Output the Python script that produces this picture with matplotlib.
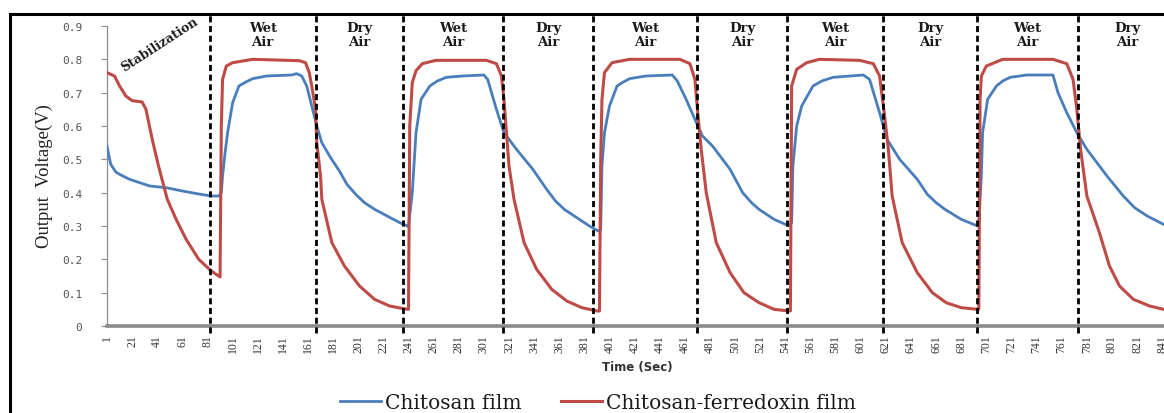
import matplotlib
matplotlib.use("Agg")
import matplotlib.pyplot as plt
from matplotlib.patches import Rectangle

# ---------------- data ----------------
chitosan_t = [1, 2, 4, 8, 11, 19, 27, 35, 48, 61, 74, 84, 90, 92, 93, 95, 97, 101, 106, 112, 117, 128, 148, 152, 156,
              160, 164, 168, 172, 179, 186, 192, 199, 206, 214, 224, 234, 240,
              241, 244, 247, 251, 258, 264, 271, 284, 301, 304, 311, 317, 327, 340, 351, 358, 365, 377, 385, 392,
              394, 395, 397, 401, 407, 412, 417, 430, 451, 455, 462, 469, 475, 483, 497, 507, 514, 520, 532, 544,
              546, 547, 550, 554, 563, 570, 579, 603, 608, 616, 622, 632, 646, 654, 661, 668, 681, 694,
              695, 696, 697, 698, 702, 709, 714, 720, 733, 754, 758, 765, 773, 781, 797, 810, 819, 829, 842]
chitosan_v = [0.54, 0.52, 0.485, 0.462, 0.455, 0.44, 0.43, 0.42, 0.415, 0.405, 0.396, 0.39, 0.39, 0.40, 0.45,
              0.52, 0.58, 0.67, 0.72, 0.733, 0.742, 0.75, 0.753, 0.757, 0.75,
              0.72, 0.66, 0.60, 0.55, 0.505, 0.465, 0.425, 0.395, 0.37, 0.35, 0.33, 0.31, 0.30,
              0.30, 0.40, 0.58, 0.68, 0.72, 0.735, 0.746, 0.75, 0.753, 0.74, 0.65, 0.58, 0.53, 0.47, 0.41, 0.375,
              0.35, 0.32, 0.30, 0.285,
              0.29, 0.48, 0.58, 0.66, 0.72, 0.732, 0.742, 0.75, 0.753, 0.735, 0.68, 0.62, 0.57, 0.54, 0.47, 0.40,
              0.37, 0.35, 0.32, 0.30,
              0.31, 0.48, 0.60, 0.66, 0.72, 0.735, 0.746, 0.753, 0.74, 0.64, 0.56, 0.50, 0.44, 0.395, 0.37, 0.35,
              0.32, 0.30,
              0.30, 0.38, 0.45, 0.58, 0.68, 0.72, 0.735, 0.746, 0.753, 0.753, 0.70, 0.64, 0.58, 0.53, 0.45, 0.39,
              0.355, 0.33, 0.305]

ferredoxin_t = [1, 7, 11, 16, 21, 29, 32, 37, 42, 49, 56, 64, 74, 84, 91, 92, 93, 96, 101, 117, 154, 159, 162,
                164, 167, 168, 171, 172, 180, 190, 202, 214, 226, 237, 241,
                242, 244, 247, 252, 263, 303, 311, 315, 317, 319, 321, 325, 333, 343, 355, 367, 379, 391, 393,
                394, 395, 397, 403, 417, 457, 465, 469, 471, 474, 478, 486, 497, 508, 520, 532, 544,
                545, 546, 550, 558, 568, 600, 611, 616, 620, 623, 626, 634, 646, 658, 669, 681, 694,
                695, 696, 697, 701, 714, 754, 765, 770, 773, 776, 781, 791, 799, 807, 818, 831, 842]
ferredoxin_v = [0.76, 0.75, 0.72, 0.69, 0.676, 0.672, 0.65, 0.56, 0.48, 0.38, 0.32, 0.26, 0.20, 0.165, 0.147,
                0.60, 0.74, 0.78, 0.79, 0.80, 0.796, 0.79, 0.76,
                0.72, 0.65, 0.55, 0.45, 0.38, 0.25, 0.18, 0.12, 0.08, 0.06, 0.052, 0.05,
                0.60, 0.73, 0.766, 0.787, 0.797, 0.797, 0.787, 0.75, 0.68, 0.58, 0.48, 0.38, 0.25, 0.17, 0.11,
                0.075, 0.055, 0.045, 0.045,
                0.50, 0.68, 0.76, 0.79, 0.80, 0.80, 0.787, 0.74, 0.65, 0.53, 0.40, 0.25, 0.16, 0.10, 0.07, 0.05,
                0.045,
                0.045, 0.72, 0.77, 0.79, 0.80, 0.797, 0.787, 0.75, 0.63, 0.53, 0.39, 0.25, 0.16, 0.10, 0.07,
                0.055, 0.05,
                0.05, 0.68, 0.75, 0.78, 0.80, 0.80, 0.787, 0.74, 0.65, 0.53, 0.39, 0.28, 0.18, 0.12, 0.08, 0.06,
                0.05]

phase_changes = [83, 167, 237, 316.5, 388, 471, 542, 619, 693.5, 774]
phase_names = ["Wet\nAir", "Dry\nAir"] * 5
x_tick_labels = [str(v) for v in range(1, 842, 20)]
y_ticks = [0, 0.1, 0.2, 0.3, 0.4, 0.5, 0.6, 0.7, 0.8, 0.9]
y_tick_labels = ["0"] + ["%.1f" % v for v in y_ticks[1:]]
series_names = ["Chitosan film", "Chitosan-ferredoxin film"]

# ---------------- figure ----------------
W, H = 1164, 414
fig = plt.figure(figsize=(W / 100, H / 100), dpi=100)
fig.patch.set_facecolor("white")

# outer frame (partly cut off at right and bottom, as in the reference)
fig.patches.append(Rectangle((10 / W, -0.2), 1.3, 1.2 - 15 / H, transform=fig.transFigure,
                             fill=False, edgecolor="black", linewidth=2.2))

ax_left, ax_right = 107 / W, 1.0
ax_bot, ax_top = 1 - 327 / H, 1 - 27 / H
ax = fig.add_axes([ax_left, ax_bot, ax_right - ax_left, ax_top - ax_bot])
ax.set_facecolor("none")

blue = "#4a7ebb"
red = "#be4b48"
ax.plot(chitosan_t, chitosan_v, color=blue, lw=2.0, label=series_names[0], solid_joinstyle="round", zorder=3)
ax.plot(ferredoxin_t, ferredoxin_v, color=red, lw=2.2, label=series_names[1], solid_joinstyle="round", zorder=3)

ax.set_xlim(1, 842.4)
ax.set_ylim(0, 0.9)

# dashed phase separators
ax.vlines(phase_changes, -0.02, 0.94, colors="black", linestyles=(0, (2.2, 1.3)), linewidth=2.0,
          clip_on=False, zorder=4)

# phase labels
bounds = phase_changes + [852]
for i, name in enumerate(phase_names):
    xm = (bounds[i] + bounds[i + 1]) / 2
    ax.text(xm, 0.875, name, ha="center", va="center", ma="center", fontsize=9.5,
            fontweight="bold", family="DejaVu Serif", linespacing=1.05, color="#1a1a1a", clip_on=False)

ax.text(43, 0.846, "Stabilization", rotation=33, ha="center", va="center", fontsize=9,
        fontweight="bold", family="DejaVu Serif", color="#1a1a1a", rotation_mode="anchor")

# axes styling
for s in ["top", "right"]:
    ax.spines[s].set_visible(False)
ax.spines["left"].set_color("#8c8c8c")
ax.spines["left"].set_linewidth(0.9)
ax.spines["bottom"].set_color("#8a8a8a")
ax.spines["bottom"].set_linewidth(2.6)

ax.set_yticks(y_ticks)
ax.set_yticklabels(y_tick_labels, family="DejaVu Sans Mono", fontsize=8, color="#555555")
ax.tick_params(axis="y", length=4, width=0.8, color="#8c8c8c", pad=14)

ax.set_xticks(list(range(1, 842, 20)))
ax.set_xticklabels(x_tick_labels, rotation=90, family="Liberation Serif", fontsize=8.5, color="#333333")
ax.tick_params(axis="x", length=0, pad=6)

ax.set_xlabel("Time (Sec)", fontsize=8.5, fontweight="bold", family="DejaVu Sans", color="#333333")
ax.xaxis.set_label_coords((637 - 107) / 1057, (327 - 368) / 300)
ax.xaxis.label.set_va("center")

ax.set_ylabel("Output  Voltage(V)", fontsize=13.5, family="Liberation Serif", color="#222222")
ax.yaxis.set_label_coords((44 - 107) / 1057, (327 - 176) / 300)
ax.yaxis.label.set_va("center")

leg = ax.legend(loc="center", bbox_to_anchor=(598 / W, 1 - 404 / H), bbox_transform=fig.transFigure,
                ncol=2, frameon=False, handlelength=2.0, handletextpad=0.2, columnspacing=2.0,
                prop={"family": "DejaVu Serif", "size": 14.5})
for t in leg.get_texts():
    t.set_color("#1a1a1a")

fig.savefig("out.png", dpi=100, facecolor="white")
